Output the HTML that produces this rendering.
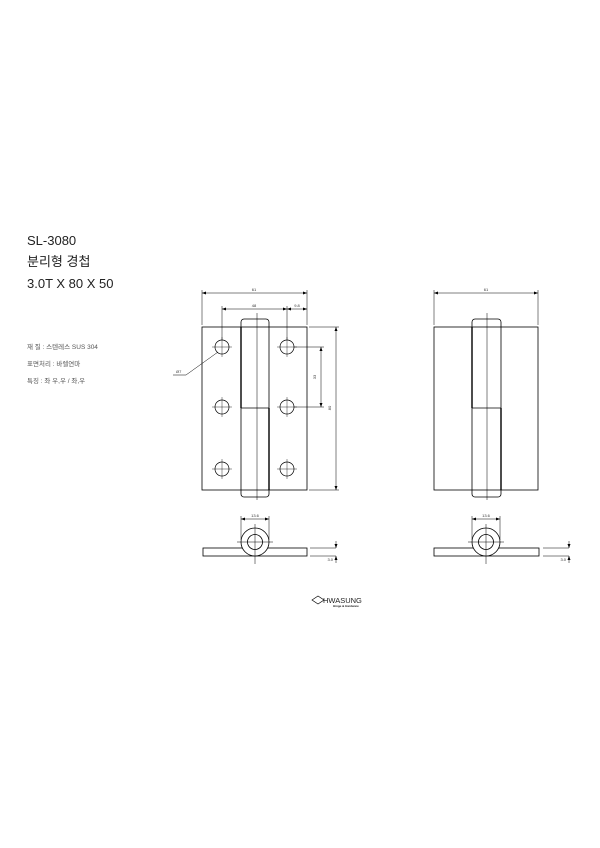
<!DOCTYPE html>
<html><head><meta charset="utf-8"><style>
html,body{margin:0;padding:0;background:#fff;}
svg{display:block;}
</style></head><body>
<svg width="600" height="848" viewBox="0 0 600 848" xmlns="http://www.w3.org/2000/svg">
<defs>
<marker id="a" markerWidth="4" markerHeight="3" refX="4" refY="1.5" orient="auto-start-reverse" markerUnits="userSpaceOnUse"><path d="M0,0 L4,1.5 L0,3 z" fill="#000"/></marker>
</defs>
<g font-family="Liberation Sans, Noto Sans CJK KR, sans-serif" fill="#222">
<text x="27" y="245" font-size="13">SL-3080</text>
<text x="27" y="266" font-size="13">분리형 경첩</text>
<text x="27" y="288" font-size="13">3.0T X 80 X 50</text>
<text x="27" y="349" font-size="6.5" fill="#555">재 질 : 스텐레스 SUS 304</text>
<text x="27" y="366" font-size="6.5" fill="#555">표면처리 : 바렐연마</text>
<text x="27" y="383" font-size="6.5" fill="#555">특징 : 좌 우,우 / 좌,우</text>
</g>
<g fill="none" stroke="#000" stroke-width="0.8">
<rect x="202" y="327" width="105" height="163"/>
<rect x="241" y="319" width="28" height="178" rx="3"/>
<line x1="241" y1="327" x2="241" y2="408" stroke-width="1.4"/>
<line x1="241" y1="408" x2="269" y2="408"/>
<line x1="269" y1="408" x2="269" y2="490" stroke-width="1.4"/>
<line x1="257" y1="313" x2="257" y2="500" stroke-width="0.5"/>
<g stroke-width="0.7">
<circle cx="222" cy="347" r="7"/><circle cx="287" cy="347" r="7"/>
<circle cx="222" cy="407" r="7"/><circle cx="287" cy="407" r="7"/>
<circle cx="222" cy="469" r="7"/><circle cx="287" cy="469" r="7"/>
</g>
<g stroke-width="0.4">
<path d="M212 347h20M222 337v20M277 347h20M287 337v20M212 407h20M222 397v20M277 407h20M287 397v20M212 469h20M222 459v20M277 469h20M287 459v20"/>
</g>
<g stroke-width="0.5">
<path d="M202 325V290M307 325V290"/>
<line x1="202" y1="293" x2="307" y2="293" marker-start="url(#a)" marker-end="url(#a)"/>
<path d="M222 340V306M287 340V306"/>
<line x1="222" y1="309" x2="287" y2="309" marker-start="url(#a)" marker-end="url(#a)"/>
<line x1="287" y1="309" x2="307" y2="309" marker-start="url(#a)" marker-end="url(#a)"/>
<path d="M294 347H324M294 407H324"/>
<line x1="321" y1="347" x2="321" y2="407" marker-start="url(#a)" marker-end="url(#a)"/>
<path d="M309 327H339M309 490H339"/>
<line x1="336" y1="327" x2="336" y2="490" marker-start="url(#a)" marker-end="url(#a)"/>
<path d="M173 375H186L218 352"/>
</g>
<rect x="434" y="327" width="104" height="163"/>
<rect x="472" y="319" width="29" height="178" rx="3"/>
<line x1="472" y1="327" x2="472" y2="408" stroke-width="1.4"/>
<line x1="472" y1="408" x2="501" y2="408"/>
<line x1="501" y1="408" x2="501" y2="490" stroke-width="1.4"/>
<line x1="487" y1="313" x2="487" y2="500" stroke-width="0.5"/>
<g stroke-width="0.5">
<path d="M434 325V290M538 325V290"/>
<line x1="434" y1="293" x2="538" y2="293" marker-start="url(#a)" marker-end="url(#a)"/>
</g>
<rect x="203" y="548" width="104" height="8"/>
<circle cx="255" cy="542" r="14" fill="#fff"/>
<circle cx="255" cy="542" r="7.5"/>
<g stroke-width="0.5">
<path d="M237 542h36M255 524v40"/>
<path d="M241 540V516M269 540V516"/>
<line x1="241" y1="519" x2="269" y2="519" marker-start="url(#a)" marker-end="url(#a)"/>
<path d="M310 548H336M310 556H336"/>
<line x1="336" y1="541" x2="336" y2="548" marker-end="url(#a)"/>
<line x1="336" y1="563" x2="336" y2="556" marker-end="url(#a)"/>
</g>
<rect x="434" y="548" width="105" height="8"/>
<circle cx="486" cy="542" r="14" fill="#fff"/>
<circle cx="486" cy="542" r="7.5"/>
<g stroke-width="0.5">
<path d="M468 542h36M486 524v40"/>
<path d="M472 540V516M500 540V516"/>
<line x1="472" y1="519" x2="500" y2="519" marker-start="url(#a)" marker-end="url(#a)"/>
<path d="M543 548H569M543 556H569"/>
<line x1="569" y1="541" x2="569" y2="548" marker-end="url(#a)"/>
<line x1="569" y1="563" x2="569" y2="556" marker-end="url(#a)"/>
</g>
<path d="M312 600L318 596L324 600L318 604Z" stroke-width="0.7"/>
</g>
<g font-family="Liberation Sans, sans-serif" font-size="4" fill="#333">
<text x="254" y="291" text-anchor="middle">61</text>
<text x="254" y="307" text-anchor="middle">48</text>
<text x="297" y="307" text-anchor="middle">9.8</text>
<text x="316" y="377" text-anchor="middle" transform="rotate(-90 316 377)">33</text>
<text x="331" y="408" text-anchor="middle" transform="rotate(-90 331 408)">80</text>
<text x="176" y="373">Ø7</text>
<text x="486" y="291" text-anchor="middle">61</text>
<text x="255" y="517" text-anchor="middle">13.6</text>
<text x="486" y="517" text-anchor="middle">13.6</text>
<text x="333" y="561" text-anchor="end">3.0</text>
<text x="566" y="561" text-anchor="end">3.0</text>
</g>
<text x="323" y="603" font-family="Liberation Sans, sans-serif" font-size="7.5" fill="#222">HWASUNG</text>
<text x="333" y="607" font-family="Liberation Sans, sans-serif" font-size="3" font-weight="bold" fill="#222">Hinge &amp; Hardware</text>
</svg>
</body></html>
